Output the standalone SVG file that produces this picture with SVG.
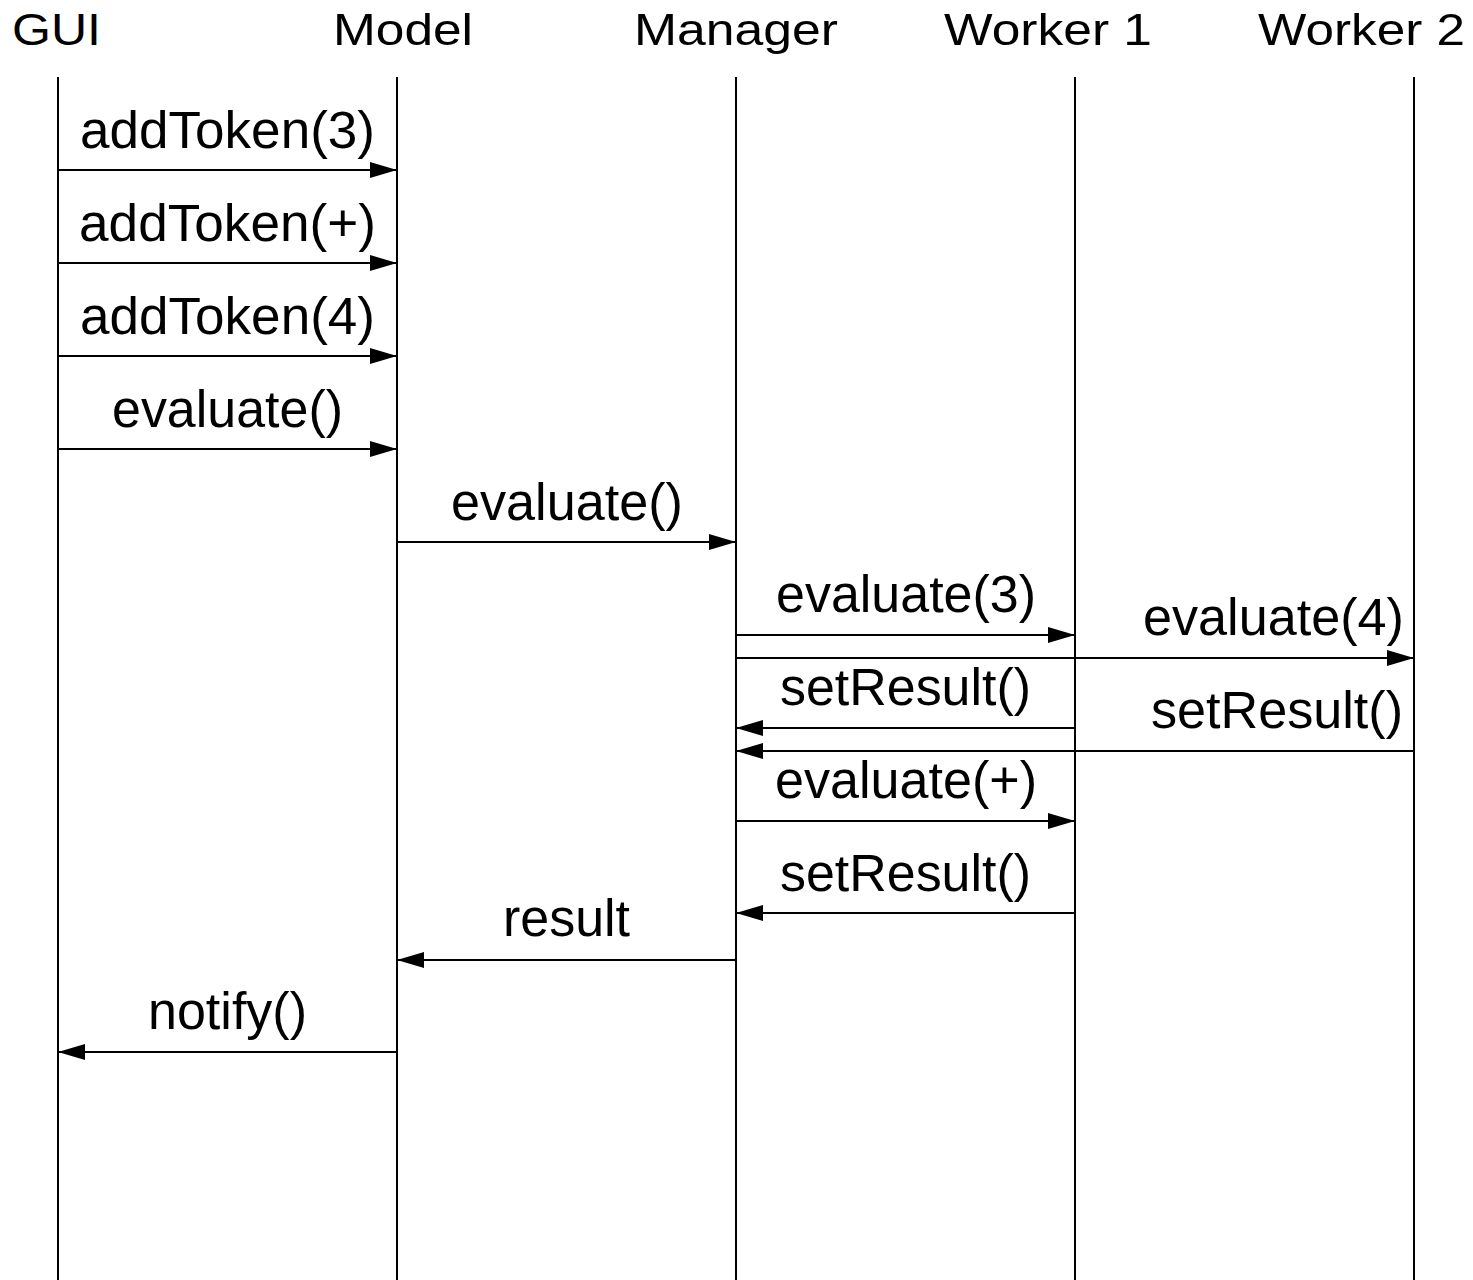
<svg xmlns="http://www.w3.org/2000/svg" width="1473" height="1280" viewBox="0 0 1473 1280">
<style>
.hdr{font-family:"Liberation Sans",Arial,sans-serif;font-size:45px;fill:#000}
.msg{font-family:"Liberation Sans",Arial,sans-serif;font-size:51px;fill:#000;text-anchor:middle}
.life{stroke:#000;stroke-width:2;fill:none}
.arr{stroke:#000;stroke-width:2;fill:none;marker-end:url(#ah)}
</style>
<defs>
<marker id="ah" markerUnits="userSpaceOnUse" markerWidth="28" markerHeight="16" refX="27" refY="8" orient="auto">
<path d="M0,0 L27,8 L0,16 z" fill="#000"/>
</marker>
</defs>
<rect width="1473" height="1280" fill="#fff"/>
<g id="gui"><text class="hdr" x="12" y="45" textLength="89" lengthAdjust="spacingAndGlyphs">GUI</text><line class="life" x1="58" y1="77" x2="58" y2="1280"/></g>
<g id="model"><text class="hdr" x="333" y="45" textLength="140" lengthAdjust="spacingAndGlyphs">Model</text><line class="life" x1="397" y1="77" x2="397" y2="1280"/></g>
<g id="manager"><text class="hdr" x="634" y="45" textLength="204" lengthAdjust="spacingAndGlyphs">Manager</text><line class="life" x1="736" y1="77" x2="736" y2="1280"/></g>
<g id="worker1"><text class="hdr" x="944" y="45" textLength="208" lengthAdjust="spacingAndGlyphs">Worker 1</text><line class="life" x1="1075" y1="77" x2="1075" y2="1280"/></g>
<g id="worker2"><text class="hdr" x="1258" y="45" textLength="207" lengthAdjust="spacingAndGlyphs">Worker 2</text><line class="life" x1="1414" y1="77" x2="1414" y2="1280"/></g>
<g id="connectors">
<line class="arr" x1="58" y1="170" x2="397" y2="170"/>
<text class="msg" x="227.5" y="148" textLength="295" lengthAdjust="spacingAndGlyphs">addToken(3)</text>
<line class="arr" x1="58" y1="263" x2="397" y2="263"/>
<text class="msg" x="227.5" y="241" textLength="297" lengthAdjust="spacingAndGlyphs">addToken(+)</text>
<line class="arr" x1="58" y1="356" x2="397" y2="356"/>
<text class="msg" x="227.5" y="334" textLength="295" lengthAdjust="spacingAndGlyphs">addToken(4)</text>
<line class="arr" x1="58" y1="449" x2="397" y2="449"/>
<text class="msg" x="227.5" y="427" textLength="231" lengthAdjust="spacingAndGlyphs">evaluate()</text>
<line class="arr" x1="397" y1="542" x2="736" y2="542"/>
<text class="msg" x="567" y="520" textLength="232" lengthAdjust="spacingAndGlyphs">evaluate()</text>
<line class="arr" x1="736" y1="635" x2="1075" y2="635"/>
<text class="msg" x="906" y="612" textLength="260" lengthAdjust="spacingAndGlyphs">evaluate(3)</text>
<line class="arr" x1="736" y1="658" x2="1414" y2="658"/>
<text class="msg" x="1273.5" y="635" textLength="261" lengthAdjust="spacingAndGlyphs">evaluate(4)</text>
<line class="arr" x1="1075" y1="728" x2="736" y2="728"/>
<text class="msg" x="905.5" y="705" textLength="251" lengthAdjust="spacingAndGlyphs">setResult()</text>
<line class="arr" x1="1414" y1="751" x2="736" y2="751"/>
<text class="msg" x="1277" y="728" textLength="252" lengthAdjust="spacingAndGlyphs">setResult()</text>
<line class="arr" x1="736" y1="821" x2="1075" y2="821"/>
<text class="msg" x="906" y="798" textLength="262" lengthAdjust="spacingAndGlyphs">evaluate(+)</text>
<line class="arr" x1="1075" y1="913" x2="736" y2="913"/>
<text class="msg" x="905.5" y="891" textLength="251" lengthAdjust="spacingAndGlyphs">setResult()</text>
<line class="arr" x1="736" y1="960" x2="397" y2="960"/>
<text class="msg" x="566.5" y="936" textLength="127" lengthAdjust="spacingAndGlyphs">result</text>
<line class="arr" x1="397" y1="1052" x2="58" y2="1052"/>
<text class="msg" x="227.5" y="1029" textLength="159" lengthAdjust="spacingAndGlyphs">notify()</text>
</g>
</svg>
